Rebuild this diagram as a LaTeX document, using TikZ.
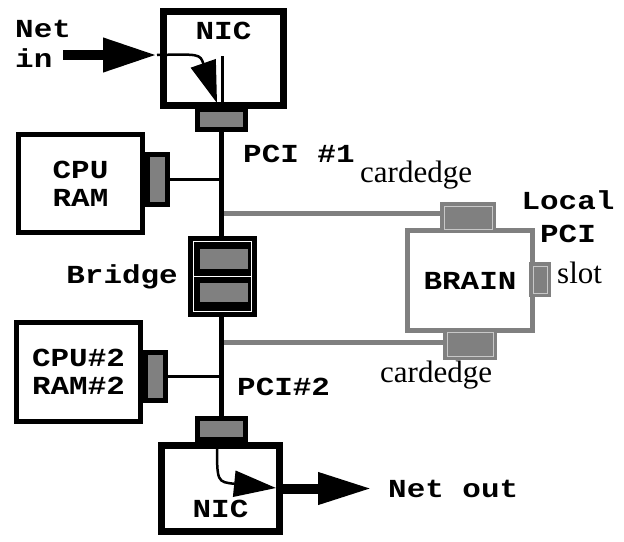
\documentclass[tikz,border=0pt]{standalone}
\usepackage{fontspec}
\setmainfont{Liberation Serif}
\setmonofont{Liberation Mono}[FakeStretch=1.19]
\usetikzlibrary{arrows.meta,positioning,calc}
\definecolor{cardgray}{RGB}{128,128,128}
\definecolor{rimgray}{RGB}{200,200,200}
\tikzset{
  box/.style={
    draw=black,
    line width=5pt,
    fill=white,
    inner sep=0pt
  },
  nic/.style={box, line width=7pt},
  plug/.style={draw=black, line width=5pt, fill=cardgray, inner sep=0pt},
  slab/.style={fill=cardgray, inner sep=0pt},
  card/.style={
    fill=cardgray,
    inner sep=0pt,
    path picture={\draw[rimgray, line width=1pt]
      ([shift={(4pt,-4pt)}]path picture bounding box.north west) rectangle
      ([shift={(-4pt,4pt)}]path picture bounding box.south east);}
  },
  lbl/.style={font=\ttfamily\bfseries\fontsize{26}{28}\selectfont, inner sep=0pt, align=center},
  note/.style={font=\fontsize{31}{31}\selectfont, inner sep=0pt},
  bus/.style={line width=4.5pt},
  tap/.style={line width=3pt},
  feed/.style={draw=cardgray, line width=5pt},
  fat/.style={line width=10pt, -{Triangle[length=54pt,width=32pt]}},
  turn/.style={line width=2.5pt, -{Triangle[length=42pt,width=26pt]}}
}
\begin{document}
\begin{tikzpicture}[x=1pt, y=-1pt]
        \useasboundingbox (0,0) rectangle (624,541);
        \node[nic, minimum width=120pt, minimum height=94pt] (nicA) at (223.5,58.5) {};
        \node[lbl, below=14pt of nicA.north] (nicAtxt) {NIC};
        \node[lbl, align=left, anchor=north west] (netin) at (15,20) {Net\\[2pt]in};
        \coordinate (inTail) at (63,55);
        \coordinate (inTip) at (157,55);
        \coordinate (nicAin) at (222,56);
        \coordinate (inBend) at (200,54);
        \coordinate (inDrop) at (217,103);
        \draw[fat] (inTail) -- (inTip);
        \node[plug, minimum width=48pt, minimum height=20pt] (conA) at (221.5,119.5) {};
        \draw[tap] (nicAin) -- (nicAin |- conA.north);
        \draw[turn] (inTip) .. controls (inBend) .. (inDrop);
        \node[lbl, anchor=base west] (pciA) at (243,162) {PCI \#1};

        \node[box, lbl, minimum width=124pt, minimum height=98pt] (cpuA) at (80.5,183.5) {CPU\\RAM};
        \node[plug, minimum width=20pt, minimum height=50pt] (cpuAcon) at (157.5,179.5) {};

        \node[box, fill=black, minimum width=64pt, minimum height=76pt] (bridge) at (222.5,276.5) {};
        \draw[white, line width=1pt] ([shift={(5.5pt,-5.5pt)}]bridge.north west) rectangle ([shift={(-5.5pt,5.5pt)}]bridge.south east);
        \draw[white, line width=1pt] ([xshift=5.5pt]bridge.west) -- ([xshift=-5.5pt]bridge.east);
        \node[slab, minimum width=48pt, minimum height=20pt] (brUp) at (223.5,259) {};
        \node[slab, minimum width=48pt, minimum height=19pt] (brDn) at (223.5,292.5) {};
        \node[lbl, left=10pt of bridge] (bridgetxt) {Bridge};

        \node[box, lbl, minimum width=124pt, minimum height=99pt] (cpuB) at (78.5,372) {CPU\#2\\RAM\#2};
        \node[plug, minimum width=20pt, minimum height=48pt] (cpuBcon) at (155.5,376.5) {};
        \node[lbl, anchor=base west] (pciB) at (237,395) {PCI\#2};

        \node[nic, minimum width=118pt, minimum height=86pt] (nicB) at (220.5,488.5) {};
        \node[lbl, above=17pt of nicB.south] (nicBtxt) {NIC};
        \node[plug, minimum width=48pt, minimum height=21pt] (conB) at (221.5,429) {};
        \coordinate (outDrop) at (217,444);
        \coordinate (outBend) at (217,482);
        \coordinate (outIn) at (276,488);
        \coordinate (outTip) at (372,488.5);
        \draw[turn] (outDrop) .. controls (outBend) .. (outIn);
        \draw[fat, -{Triangle[length=54pt,width=30pt]}] (nicB.east) -- (outTip);
        \node[lbl, right=16pt of outTip] (netout) {Net out};

        \node[box, draw=cardgray, lbl, minimum width=125pt, minimum height=100pt] (brain) at (470,280.5) {BRAIN};
        \node[card, minimum width=56pt, minimum height=31pt] (edgeA) at (468,217.5) {};
        \node[card, minimum width=54pt, minimum height=32pt] (edgeB) at (470,344) {};
        \node[card, minimum width=22pt, minimum height=35pt] (slot) at (540,279.5) {};
        \node[note, anchor=base west] (edgeAtxt) at (360,182) {cardedge};
        \node[note, anchor=base west] (edgeBtxt) at (380,382) {cardedge};
        \node[note, anchor=base west] (slottxt) at (557,283) {slot};
        \node[lbl, anchor=base] (localpci) at (568,242) {Local\\[5pt]PCI};

        \coordinate (tapA) at (221.5,213);
        \coordinate (tapB) at (221.5,342);
        \draw[feed] (tapA) -- (tapA -| edgeA.west);
        \draw[feed] (tapB) -- (tapB -| edgeB.west);
        \draw[bus] (conA.south) -- (conA.south |- bridge.north);
        \draw[bus] (conB.north |- bridge.south) -- (conB.north);
        \draw[tap] (cpuAcon.east) -- (cpuAcon.east -| conA.south);
        \draw[tap] (cpuBcon.east) -- (cpuBcon.east -| conB.north);
      \end{tikzpicture}
\end{document}
